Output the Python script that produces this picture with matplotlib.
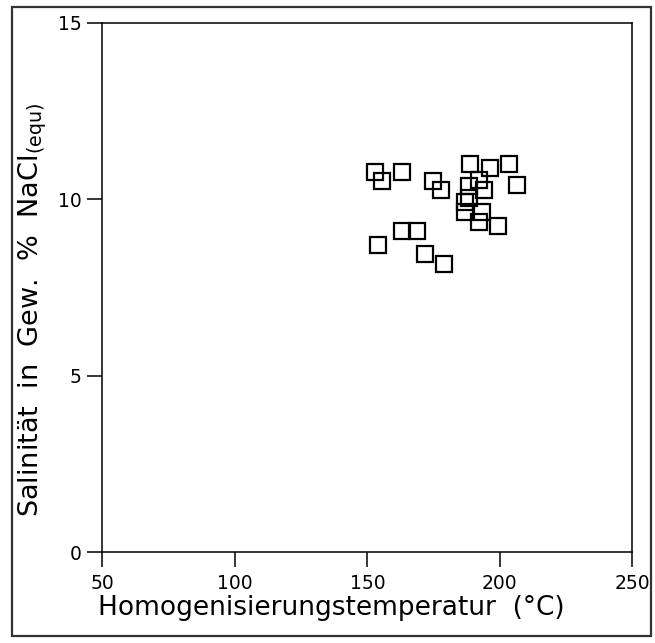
#!/usr/bin/env python
# -*- coding: utf-8 -*-
import matplotlib
matplotlib.use('Agg')
import matplotlib.pyplot as plt
from matplotlib.patches import Rectangle

# Homogenisation temperature [deg C] and salinity [wt.% NaCl equ.]
temperature = [152.8, 155.5, 163.0, 174.9, 177.8, 188.6, 196.4, 203.4,
               206.4, 192.3, 188.3, 194.2, 187.0, 188.2, 187.0, 193.2,
               192.3, 199.4, 163.2, 168.6, 171.7, 178.8, 154.0]
salinity = [10.77, 10.52, 10.77, 10.52, 10.26, 11.00, 10.88, 11.00,
            10.39, 10.55, 10.37, 10.25, 9.92, 10.02, 9.64, 9.64,
            9.35, 9.25, 9.10, 9.10, 8.44, 8.16, 8.70]

x_ticks = [50, 100, 150, 200, 250]
y_ticks = [0, 5, 10, 15]


def main():
    plt.rcParams['font.family'] = ['DejaVu Sans']
    fig = plt.figure(figsize=(6.55, 6.43), dpi=100)
    ax = fig.add_axes([0.1562, 0.1415, 0.8092, 0.8232])

    # Open squares
    ax.plot(temperature, salinity, 's', ms=11.5, mfc='none', mec='black',
            mew=1.6, clip_on=False)

    ax.set_xlim(50, 250)
    ax.set_ylim(0, 15)
    ax.set_xticks(x_ticks)
    ax.set_yticks(y_ticks)
    for s in ax.spines.values():
        s.set_linewidth(1.1)
    ax.tick_params(direction='out', length=11, width=1.1, labelsize=13.5,
                   color='black')
    ax.tick_params(axis='x', pad=5)
    ax.tick_params(axis='y', pad=4)

    ax.set_xlabel('Homogenisierungstemperatur  (°C)', fontsize=19)
    ax.xaxis.set_label_coords(0.432, -0.082)
    ax.set_ylabel(r'Salinität  in  Gew.  %  NaCl$_{\rm (equ)}$', fontsize=19.5)
    ax.yaxis.set_label_coords(-0.101, 0.457)

    # Frame round the whole figure
    fig.patches.append(Rectangle((12 / 655, 7 / 643), 639 / 655, 629 / 643,
                                 transform=fig.transFigure, fill=False,
                                 edgecolor='#333333', linewidth=1.6))

    fig.savefig('out.png', dpi=100)


if __name__ == '__main__':
    main()
